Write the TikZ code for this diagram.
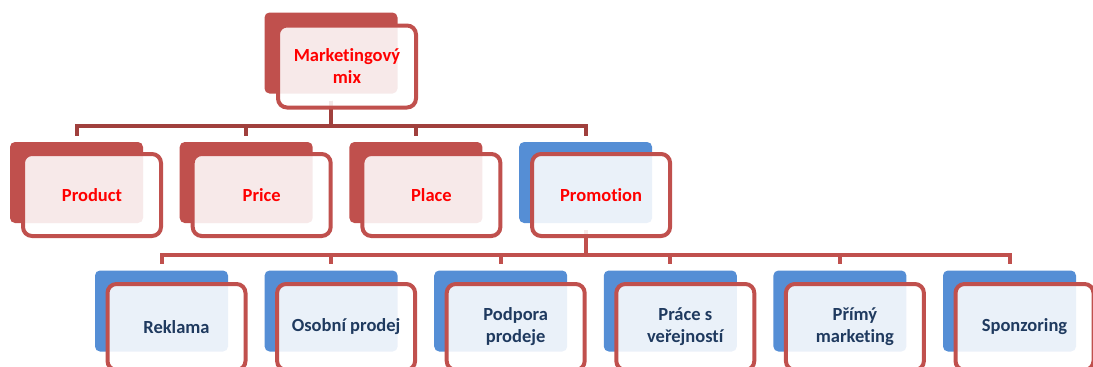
\documentclass[tikz,border=0pt]{standalone}
\usepackage{fontspec}
\setmainfont{Carlito}[Ligatures=NoCommon]
\usepackage{tikz}
\definecolor{boxred}{HTML}{C0504D}
\definecolor{boxblue}{HTML}{558ED5}
\definecolor{linkred}{HTML}{A0403D}
\definecolor{textblue}{HTML}{1F3A5F}
\tikzstyle{back} = [rectangle, rounded corners=5pt, minimum width=133pt, minimum height=81pt, inner sep=0pt]
\tikzstyle{card} = [rectangle, draw=boxred, line width=4pt, rounded corners=9pt, fill=white, fill opacity=0.88, text opacity=1, minimum width=138pt, minimum height=82pt, inner sep=0pt, align=center, font=\bfseries\fontsize{18.5}{22}\selectfont]
\tikzstyle{lowcard} = [card, text=textblue, minimum height=86pt]
\tikzstyle{link} = [line width=4pt, shorten <=7pt, shorten >=6pt]

\begin{document}
\begin{tikzpicture}[yscale=-1]
			\useasboundingbox (0pt,0pt) rectangle (1093pt,367pt);
			% back boxes
			\node[back, fill=boxred] (mixb) at (331pt,53pt) {};
			\node[back, fill=boxred] (productb) at (76.5pt,182.5pt) {};
			\node[back, fill=boxred] (priceb) at (246.2pt,182.5pt) {};
			\node[back, fill=boxred] (placeb) at (415.9pt,182.5pt) {};
			\node[back, fill=boxblue] (promob) at (585.6pt,182.5pt) {};
			\node[back, fill=boxblue] (reklamab) at (161.5pt,311pt) {};
			\node[back, fill=boxblue] (osobnib) at (331.1pt,311pt) {};
			\node[back, fill=boxblue] (podporab) at (500.7pt,311pt) {};
			\node[back, fill=boxblue] (praceb) at (670.3pt,311pt) {};
			\node[back, fill=boxblue] (primyb) at (839.9pt,311pt) {};
			\node[back, fill=boxblue] (sponzorb) at (1009.5pt,311pt) {};
			% connectors
			\coordinate (topbar) at (331pt,125.5pt);
			\coordinate (lowbar) at (585.6pt,254.5pt);
			\foreach \n in {productb,priceb,placeb,promob}
				\draw[link, linkred] (mixb.south) -- (topbar) -| (\n.north);
			\foreach \n in {reklamab,osobnib,podporab,praceb,primyb,sponzorb}
				\draw[link, boxred] (promob.south) -- (lowbar) -| (\n.north);
			% front boxes
			\node[card, text=red] (mix) at (347pt,66.5pt) {Marketingový\\mix};
			\node[card, text=red] (product) at (92pt,195pt) {Product};
			\node[card, text=red] (price) at (261.7pt,195pt) {Price};
			\node[card, text=red] (place) at (431.4pt,195pt) {Place};
			\node[card, text=red] (promo) at (601.1pt,195pt) {Promotion};
			\node[lowcard] (reklama) at (176.5pt,327pt) {Reklama};
			\node[lowcard] (osobni) at (346.1pt,327pt) {Osobní prodej};
			\node[lowcard] (podpora) at (515.7pt,327pt) {Podpora\\prodeje};
			\node[lowcard] (prace) at (685.3pt,327pt) {Práce s\\veřejností};
			\node[lowcard] (primy) at (854.9pt,327pt) {Přímý\\marketing};
			\node[lowcard] (sponzor) at (1024.5pt,327pt) {Sponzoring};
		\end{tikzpicture}
\end{document}
